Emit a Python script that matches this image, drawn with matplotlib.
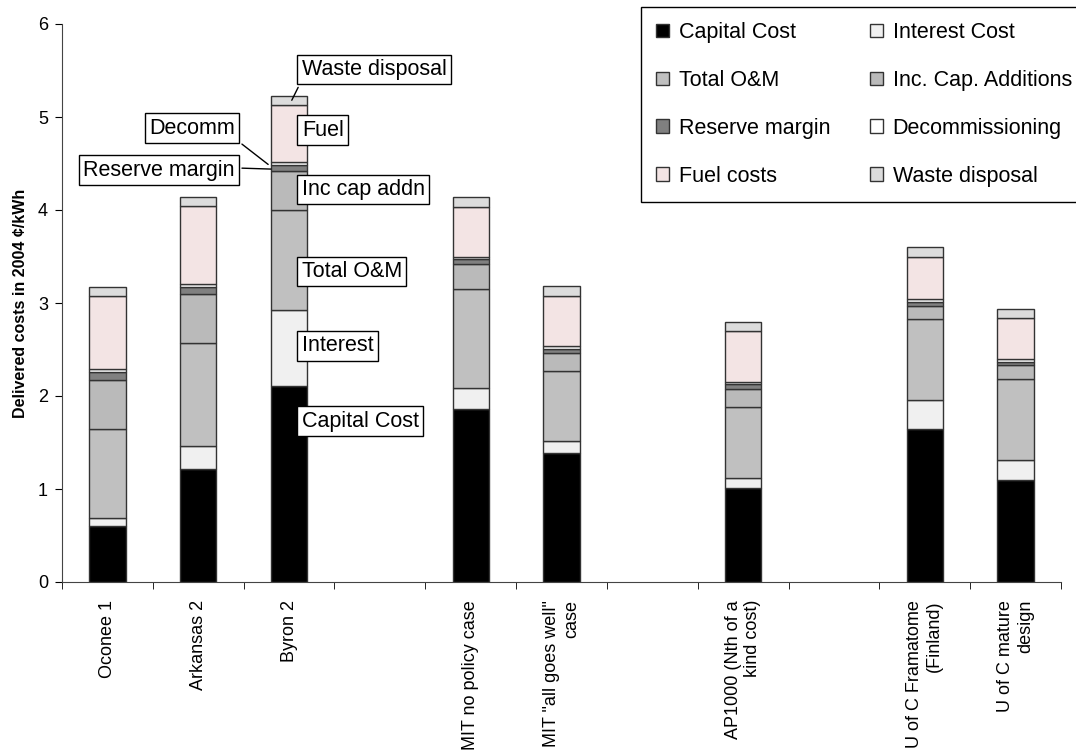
import numpy as np
import matplotlib
matplotlib.use('Agg')
import matplotlib.pyplot as plt
from matplotlib.patches import Patch

plt.rcParams['font.family'] = ['Liberation Sans', 'DejaVu Sans']

# categories (blank ones are the gaps in the original chart)
categories = ['Oconee 1', 'Arkansas 2', 'Byron 2', '',
              'MIT no policy case', 'MIT "all goes well"\ncase', '',
              'AP1000 (Nth of a\nkind cost)', '',
              'U of C Framatome\n(Finland)', 'U of C mature\ndesign']

# cents/kWh for the 8 non-blank cases, in order
capital  = [0.60, 1.22, 2.11, 1.86, 1.39, 1.01, 1.64, 1.10]
interest = [0.09, 0.24, 0.82, 0.23, 0.13, 0.11, 0.32, 0.21]
om       = [0.95, 1.11, 1.07, 1.06, 0.75, 0.76, 0.87, 0.87]
inccap   = [0.53, 0.53, 0.42, 0.27, 0.19, 0.20, 0.14, 0.15]
reserve  = [0.09, 0.07, 0.06, 0.05, 0.05, 0.05, 0.04, 0.04]
decomm   = [0.03, 0.03, 0.04, 0.02, 0.03, 0.02, 0.03, 0.03]
fuel     = [0.78, 0.84, 0.61, 0.54, 0.54, 0.55, 0.45, 0.44]
waste    = [0.10, 0.10, 0.10, 0.11, 0.10, 0.10, 0.11, 0.10]

series = [
    ('Capital Cost', capital, '#000000'),
    ('Interest Cost', interest, '#f0f0f0'),
    ('Total O&M', om, '#c0c0c0'),
    ('Inc. Cap. Additions', inccap, '#bababa'),
    ('Reserve margin', reserve, '#808080'),
    ('Decommissioning', decomm, '#ffffff'),
    ('Fuel costs', fuel, '#f3e4e4'),
    ('Waste disposal', waste, '#dcdcdc'),
]

fig = plt.figure(figsize=(10.76, 7.55), dpi=100)
ax = fig.add_axes([62/1076, 1-582/755, 999/1076, 558/755])

x = np.arange(len(categories))
xs = x[[i for i, c in enumerate(categories) if c]]
bottom = np.zeros(len(xs))
handles = {}
for name, vals, col in series:
    ax.bar(xs, vals, 0.4, bottom=bottom, color=col, edgecolor='#333333', linewidth=1)
    handles[name] = Patch(facecolor=col, edgecolor='#333333', linewidth=1)
    bottom += np.array(vals)

ax.set_xlim(-0.5, len(categories) - 0.5)
ax.set_ylim(0, 6)
ax.set_yticks(range(7))
ax.set_xticks(x)
ax.set_xticklabels(categories, rotation=90, va='top', ha='center', multialignment='right')
ax.set_xticks(np.arange(-0.5, len(categories)), minor=True)
ax.tick_params(axis='x', which='major', length=0, pad=13, labelsize=13)
ax.tick_params(axis='x', which='minor', length=5, direction='out')
ax.tick_params(axis='y', length=5, direction='out', labelsize=13, pad=5)
for s in ['top', 'right']:
    ax.spines[s].set_visible(False)
for s in ['left', 'bottom']:
    ax.spines[s].set_color('#444444')
ax.set_ylabel('Delivered costs in 2004 \u00a2/kWh', fontsize=11.5, fontweight='bold', labelpad=7)

box = dict(boxstyle='square,pad=0.2', fc='white', ec='black', lw=1)
fs = 15.5
ax.text(2.14, 1.73, 'Capital Cost', fontsize=fs, va='center', bbox=box)
ax.text(2.14, 2.54, 'Interest', fontsize=fs, va='center', bbox=box)
ax.text(2.14, 3.34, 'Total O&M', fontsize=fs, va='center', bbox=box)
ax.text(2.14, 4.22, 'Inc cap addn', fontsize=fs, va='center', bbox=box)
ax.text(2.14, 4.86, 'Fuel', fontsize=fs, va='center', bbox=box)
ax.annotate('Waste disposal', xy=(2.03, 5.18), xytext=(2.14, 5.51), fontsize=fs, va='center',
            bbox=box, arrowprops=dict(arrowstyle='-', lw=1, color='black', relpos=(0, 0), shrinkB=0))
ax.annotate('Decomm', xy=(1.77, 4.49), xytext=(0.46, 4.88), fontsize=fs, va='center',
            bbox=box, arrowprops=dict(arrowstyle='-', lw=1, color='black', relpos=(1, 0), shrinkB=0))
ax.annotate('Reserve margin', xy=(1.8, 4.44), xytext=(-0.27, 4.43), fontsize=fs, va='center',
            bbox=box, arrowprops=dict(arrowstyle='-', lw=1, color='black', relpos=(1, 0.6), shrinkB=0))

# legend runs off the right edge of the figure, as in the original
order = ['Capital Cost', 'Total O&M', 'Reserve margin', 'Fuel costs',
         'Interest Cost', 'Inc. Cap. Additions', 'Decommissioning', 'Waste disposal']
leg = fig.legend([handles[n] for n in order], order, ncol=2, loc='upper left',
                 bbox_to_anchor=(641/1076, 1-7/755), borderaxespad=0, fontsize=fs,
                 frameon=True, fancybox=False, edgecolor='black', framealpha=1,
                 handlelength=0.6, handleheight=0.6, handletextpad=0.45,
                 labelspacing=1.25, columnspacing=1.85, borderpad=0.7)
leg.get_frame().set_linewidth(1)

fig.savefig('out.png', dpi=100)
